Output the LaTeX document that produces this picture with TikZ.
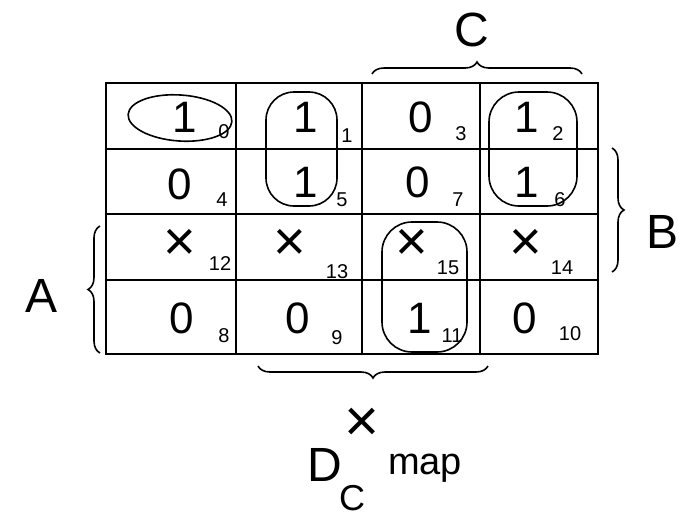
\documentclass[tikz,border=0pt]{standalone}
\usepackage{fontspec}
\setmainfont{Liberation Sans}
\usetikzlibrary{decorations.pathreplacing}
\begin{document}
\begin{tikzpicture}[x=1pt,y=-1pt,
  grid/.style={line width=2.6pt,line cap=round},
  val/.style={font=\fontsize{44}{44}\selectfont,inner sep=0pt},
  xval/.style={font=\fontsize{56}{56}\selectfont,inner sep=0pt},
  sub/.style={font=\fontsize{20}{20}\selectfont,inner sep=0pt},
  loopline/.style={line width=1.6pt},
  bracestyle/.style={line width=1.6pt,decorate,decoration={brace,amplitude=12pt}},
  lbl/.style={font=\fontsize{48}{48}\selectfont,inner sep=0pt}]
\useasboundingbox (0,0) rectangle (698,525);
% grid
\draw[grid] (106,83) rectangle (598,354);
\draw[grid] (106,149) -- (598,149);
\draw[grid] (106,214) -- (598,214);
\draw[grid] (106,280) -- (598,280);
\draw[grid] (236,83) -- (236,354);
\draw[grid] (362,83) -- (362,354);
\draw[grid] (480,83) -- (480,354);
% row 0
\node[val] (v0) at (185,117) {1};  \node[sub] (s0) at (224,132) {0};
\node[val] (v1) at (306,117) {1};  \node[sub] (s1) at (347,136) {1};
\node[val] (v3) at (421,117) {0};  \node[sub] (s3) at (461,134) {3};
\node[val] (v2) at (527,117) {1};  \node[sub] (s2) at (558,134) {2};
% row 1
\node[val] (v4) at (180,184) {0};  \node[sub] (s4) at (222,200) {4};
\node[val] (v5) at (306,182) {1};  \node[sub] (s5) at (342,200) {5};
\node[val] (v7) at (418,182) {0};  \node[sub] (s7) at (458,200) {7};
\node[val] (v6) at (527,182) {1};  \node[sub] (s6) at (560,200) {6};
% row 2
\node[xval] (v12) at (180,245) {×}; \node[sub] (s12) at (220,264) {12};
\node[xval] (v13) at (290,245) {×}; \node[sub] (s13) at (337,272) {13};
\node[xval] (v15) at (412,245) {×}; \node[sub] (s15) at (448,268) {15};
\node[xval] (v14) at (526,245) {×}; \node[sub] (s14) at (562,268) {14};
% row 3
\node[val] (v8) at (182,318) {0};  \node[sub] (s8) at (224,336) {8};
\node[val] (v9) at (298,318) {0};  \node[sub] (s9) at (337,338) {9};
\node[val] (v11) at (420,318) {1}; \node[sub] (s11) at (452,336) {11};
\node[val] (v10) at (525,318) {0}; \node[sub] (s10) at (570,334) {10};
% loops
\draw[loopline,rotate around={-4:(180,118)}] (180,118) ellipse (52pt and 23pt);
\draw[loopline,rounded corners=28pt] (266,92) rectangle (337,206);
\draw[loopline,rounded corners=30pt] (489,92) rectangle (577,206);
\draw[loopline,rounded corners=30pt] (382,222) rectangle (467,352);
% braces
\coordinate (cA) at (372,74); \coordinate (cB) at (582,74);
\draw[bracestyle] (cA) -- (cB);
\node[lbl] (C) at (472,30) {C};
\coordinate (bA) at (612,148); \coordinate (bB) at (612,272);
\draw[bracestyle] (bA) -- (bB);
\node[lbl] (B) at (662,232) {B};
\coordinate (aA) at (100,226); \coordinate (aB) at (100,353);
\draw[bracestyle,decoration={mirror}] (aA) -- (aB);
\node[lbl] (A) at (42,296) {A};
\coordinate (dA) at (258,366); \coordinate (dB) at (488,366);
\draw[bracestyle,decoration={mirror}] (dA) -- (dB);
\node[font=\fontsize{60}{60}\selectfont,inner sep=0pt] (X) at (362,425) {×};
\node[lbl] (D) at (325,465) {D};
\node[font=\fontsize{36}{36}\selectfont,inner sep=0pt] (Dc) at (352,498) {C};
\node[font=\fontsize{38}{38}\selectfont,inner sep=0pt] (map) at (425,468) {map};
\end{tikzpicture}
\end{document}
